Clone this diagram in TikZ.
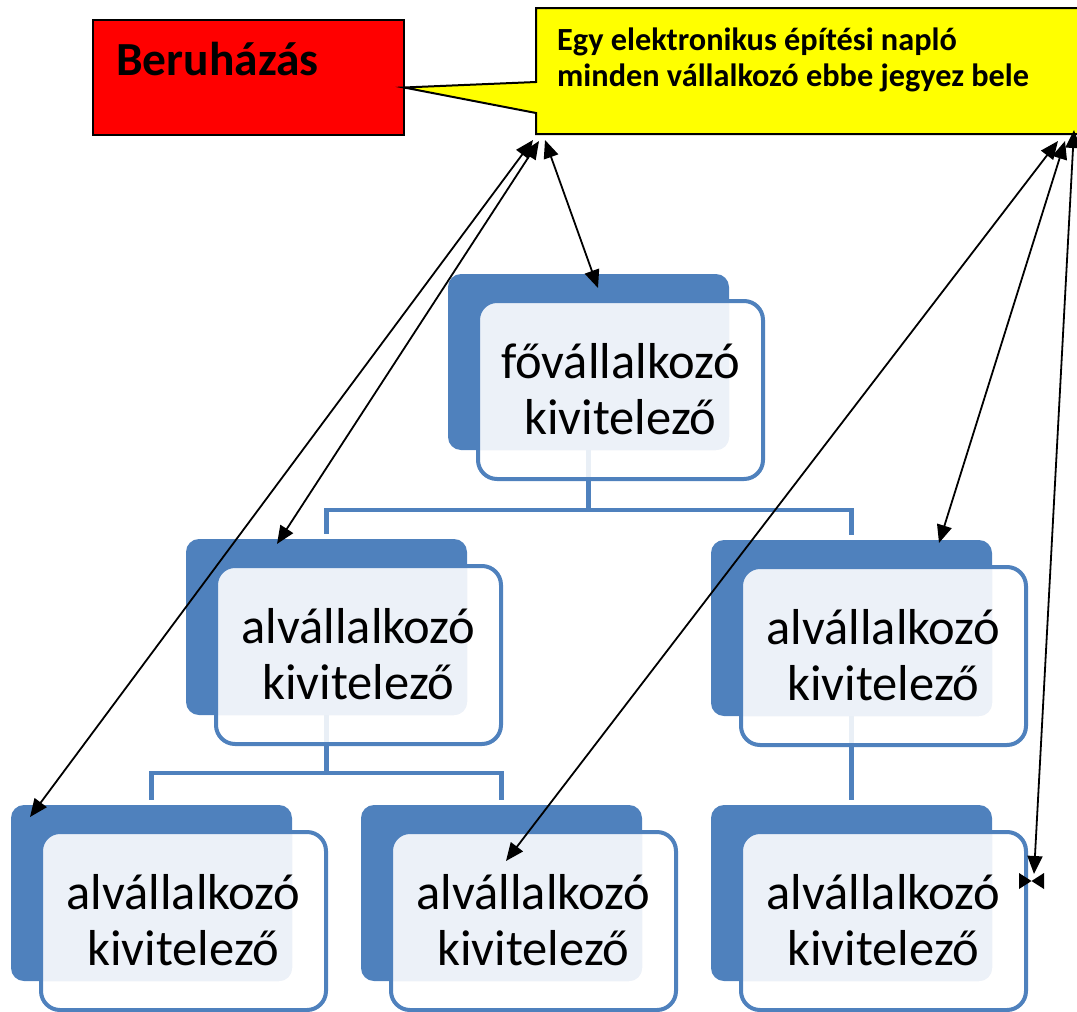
\documentclass[tikz,border=0pt]{standalone}
\usepackage{fontspec}
\setmainfont{Carlito}
\usetikzlibrary{calc,arrows.meta}
\pgfdeclarelayer{background}
\pgfsetlayers{background,main}
\definecolor{accblue}{RGB}{79,129,189}
\definecolor{lightblue}{RGB}{236,241,248}
\definecolor{noteyellow}{RGB}{255,255,0}
\definecolor{berured}{RGB}{255,0,0}
\newcommand\orgunit[4]{%
  \node[backbox] (b#1) at (#2,#3) {};
  \node[frontbox] (f#1) at ($(b#1.north west)+(30,27)$) {};
  \begin{scope}
    \clip[rounded corners=19pt] (f#1.south west) rectangle (f#1.north east);
    \fill[lightblue, rounded corners=13pt] (b#1.south west) rectangle (b#1.north east);
  \end{scope}
  \draw[frontline] (f#1.south west) rectangle (f#1.north east);
  \node[boxtext] (t#1) at ($(f#1.center)+(0,-1)$) {#4};
}
\begin{document}
\begin{tikzpicture}[x=1pt,y=-1pt,
  backbox/.style={fill=accblue, rounded corners=13pt, minimum width=281pt, minimum height=176pt, inner sep=0pt, outer sep=0pt, anchor=north west},
  frontbox/.style={fill=white, fill opacity=0.88, rounded corners=19pt, minimum width=285pt, minimum height=178pt, inner sep=0pt, outer sep=0pt, anchor=north west},
  frontline/.style={draw=accblue, line width=4pt, rounded corners=19pt},
  boxtext/.style={align=center, font=\fontsize{50.5}{56}\selectfont, inner sep=0pt},
  tree/.style={draw=accblue, line width=4.5pt},
  link/.style={line width=1.8pt, {Triangle[length=18pt,width=15pt]}-{Triangle[length=18pt,width=15pt]}},
  ]
\useasboundingbox (0,0) rectangle (1077,1012);

% callout and red box
\node[minimum width=545pt, minimum height=126pt, inner sep=0pt, outer sep=0pt, anchor=north west] (naplo) at (536,8) {};
\node[draw, line width=2pt, fill=berured, minimum width=311pt, minimum height=115pt, inner sep=0pt, outer sep=0pt, anchor=north west] (beru) at (93,20) {};
\coordinate (tip) at ($(beru.east)+(0,10)$);
\draw[line width=2pt, fill=noteyellow, line join=miter]
  (naplo.north west) -- (naplo.north east) -- (naplo.south east) -- (naplo.south west)
  -- ($(naplo.north west)+(0,105)$) -- (tip) -- ($(naplo.north west)+(0,74)$) -- cycle;
\node[font=\bfseries\fontsize{47.5}{52}\selectfont, anchor=base west, inner sep=0pt] (berutext) at (116,75) {Beruházás};
\node[font=\bfseries\fontsize{32.3}{36}\selectfont, anchor=north west, inner sep=0pt, align=left] (naplotext) at (557,28)
  {Egy elektronikus építési napló\\minden vállalkozó ebbe jegyez bele};

% org chart units
\orgunit{1}{448}{274}{fővállalkozó\\kivitelező}
\orgunit{21}{186}{539}{alvállalkozó\\kivitelező}
\orgunit{22}{711}{540}{alvállalkozó\\kivitelező}
\orgunit{31}{11}{805}{alvállalkozó\\kivitelező}
\orgunit{32}{361}{805}{alvállalkozó\\kivitelező}
\orgunit{33}{711}{805}{alvállalkozó\\kivitelező}

% tree connectors (behind)
\begin{pgfonlayer}{background}
  \coordinate (j1) at ($(b1.south)+(0,60)$);
  \coordinate (j2) at ($(b21.south)+(0,58)$);
  \draw[tree] (b1.south) -- (j1);
  \draw[tree, shorten >=5pt] (j1) -| (b21.north);
  \draw[tree, shorten >=5pt] (j1) -| (b22.north);
  \draw[tree] (b21.south) -- (j2);
  \draw[tree, shorten >=5pt] (j2) -| (b31.north);
  \draw[tree, shorten >=5pt] (j2) -| (b32.north);
  \draw[tree, shorten >=5pt] (b22.south) -- (b33.north);
\end{pgfonlayer}

% links to the diary
\draw[link] ($(naplo.south west)+(-3,6)$) -- ($(b31.north west)+(19,12)$);
\draw[link] ($(naplo.south west)+(3,7)$) -- ($(b21.north west)+(91,5)$);
\draw[link] ($(naplo.south west)+(9,6)$) -- ($(b1.north west)+(150,14)$);
\draw[link] ($(naplo.south east)+(-23,7)$) -- ($(f32.north west)+(115,29)$);
\draw[link] ($(naplo.south east)+(-16,7)$) -- ($(b22.north west)+(228,3)$);
\draw[link] ($(naplo.south east)+(-7,-4)$) -- ($(f33.north east)+(8,42)$);
\fill (1019,873) -- (1031.5,881) -- (1019,889) -- cycle;
\fill (1044,873) -- (1031.5,881) -- (1044,889) -- cycle;
\end{tikzpicture}
\end{document}
